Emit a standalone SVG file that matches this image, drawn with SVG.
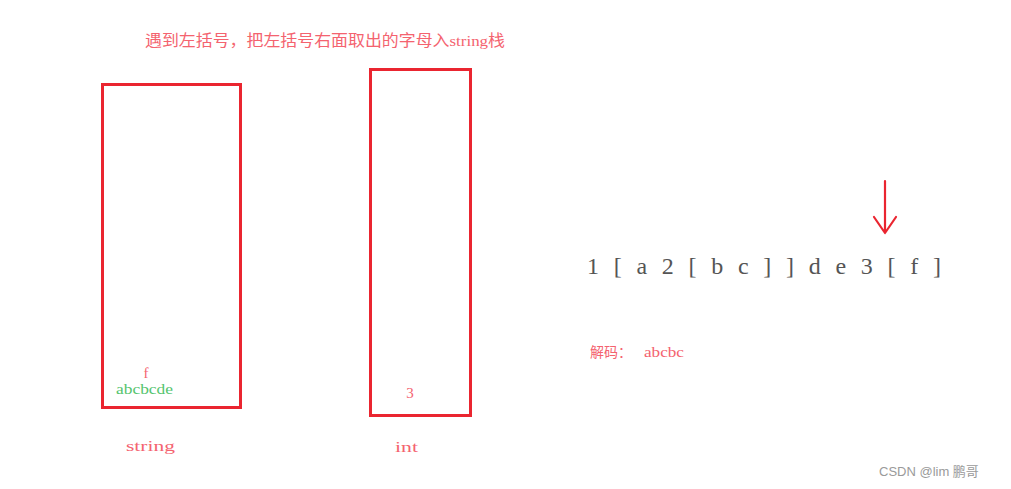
<svg xmlns="http://www.w3.org/2000/svg" width="1011" height="489" viewBox="0 0 1011 489">
<style>
.box{fill:none;stroke:#ea2530;stroke-width:3}
.lbl{font-family:"Liberation Serif","Noto Sans CJK SC",serif;fill:#f4636f}
.cjk{font-family:"Liberation Serif","Noto Sans CJK SC",serif;fill:#f4636f}
.seq{font-family:"Liberation Serif","Noto Sans CJK SC",serif;fill:#555555;font-size:24px}
.arrow{fill:none;stroke:#ea2530;stroke-width:2.2;stroke-linecap:round;stroke-linejoin:round}
</style>
<rect width="1011" height="489" fill="#ffffff"/>
<text class="cjk" x="145" y="46" font-size="15.5" textLength="360" lengthAdjust="spacingAndGlyphs">遇到左括号，把左括号右面取出的字母入string栈</text>
<g id="string-stack">
<rect class="box" x="102.5" y="84.5" width="138" height="323"/>
<text class="lbl" x="146" y="378" font-size="15" text-anchor="middle">f</text>
<text x="116" y="394" font-size="15" textLength="57" lengthAdjust="spacingAndGlyphs" style="font-family:'Liberation Serif',serif;fill:#55c46e">abcbcde</text>
<text class="lbl" x="126" y="451" font-size="15" textLength="49" lengthAdjust="spacingAndGlyphs">string</text>
</g>
<g id="int-stack">
<rect class="box" x="370.5" y="69.5" width="100" height="346"/>
<text class="lbl" x="410" y="398" font-size="15" text-anchor="middle">3</text>
<text class="lbl" x="395" y="452" font-size="15" textLength="23" lengthAdjust="spacingAndGlyphs">int</text>
</g>
<g id="connectors">
<path class="arrow" d="M885 181 V233 M874 217 L885 233 L896 217"/>
</g>
<g id="sequence">
<text class="seq" x="587" y="274" xml:space="preserve" textLength="354" lengthAdjust="spacing">1 [ a 2 [ b c ] ] d e 3 [ f ]</text>
</g>
<g id="decode">
<text class="cjk" x="590" y="357" font-size="14">解码：</text>
<text class="lbl" x="644" y="357" font-size="14" textLength="40" lengthAdjust="spacingAndGlyphs">abcbc</text>
</g>
<text x="879" y="476" font-size="13" style="font-family:'Liberation Sans','Noto Sans CJK SC',sans-serif;fill:#9a9a9a">CSDN @lim 鹏哥</text>
</svg>
